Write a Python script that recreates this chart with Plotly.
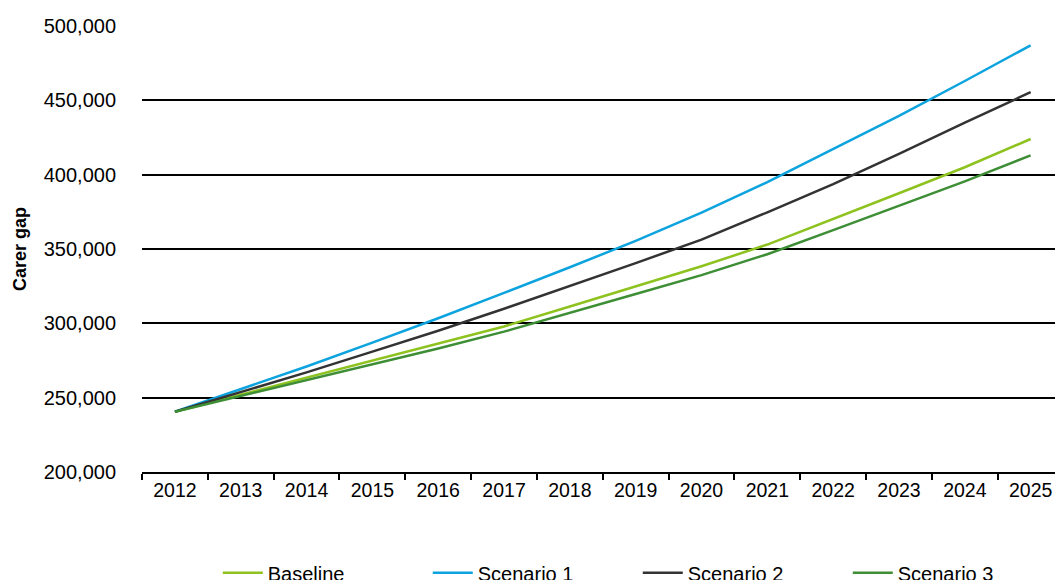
import plotly.graph_objects as go

years = [str(y) for y in range(2012, 2026)]

baseline = [240500, 252000, 263300, 274600, 286000, 297900, 311300,
            324800, 338400, 353000, 370000, 387500, 405000, 424000]
scenario_1 = [240500, 255500, 271000, 287000, 303400, 320500, 337700,
              355500, 374500, 395000, 417000, 439500, 463000, 487000]
scenario_2 = [240500, 253500, 267000, 281000, 295000, 309800, 325000,
              340500, 356300, 374700, 393700, 414000, 435000, 455500]
scenario_3 = [240500, 251200, 261900, 272400, 283100, 294400, 306800,
              319700, 332400, 346500, 362700, 379000, 395500, 413000]

series = [
    ("Baseline", baseline, "#8DC21F"),
    ("Scenario 1", scenario_1, "#0CA3DE"),
    ("Scenario 2", scenario_2, "#333333"),
    ("Scenario 3", scenario_3, "#3E8E35"),
]

font = "Liberation Sans, Arial, sans-serif"

fig = go.Figure()
for name, vals, color in series:
    fig.add_trace(go.Scatter(
        x=years, y=vals, name=name, mode="lines",
        line=dict(color=color, width=2.5),
    ))

fig.update_layout(
    width=1055, height=580,
    margin=dict(l=142, r=0, t=26, b=108, autoexpand=False),
    plot_bgcolor="white", paper_bgcolor="white",
    font=dict(family=font, size=20, color="#000000"),
    showlegend=True,
    legend=dict(
        orientation="h", x=0.083, xanchor="left",
        y=-0.226, yanchor="middle",
        entrywidth=155, entrywidthmode="pixels", itemwidth=40,
        font=dict(size=20), tracegroupgap=0,
    ),
)

fig.update_xaxes(
    type="category", range=[-0.5, 13.37],
    showline=True, linecolor="black", linewidth=1.5,
    ticks="outside", tickson="boundaries", ticklen=6,
    tickcolor="black", tickwidth=1.5,
    showgrid=False, tickfont=dict(size=19.5),
)

fig.update_yaxes(
    range=[200000, 500000], dtick=50000, tickformat=",",
    showgrid=True, gridcolor="black", gridwidth=1.5,
    showline=False, zeroline=False,
    ticklabelstandoff=25, tickfont=dict(size=20),
    title=dict(text="<b>Carer gap</b>", font=dict(size=18), standoff=12),
)

fig.write_html("out.html", config={"displayModeBar": False},
               post_script="document.body.style.margin='0';")
